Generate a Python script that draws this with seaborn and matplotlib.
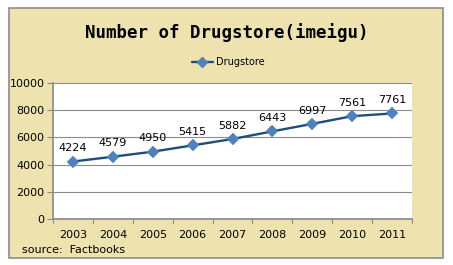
import matplotlib
matplotlib.use("Agg")
import matplotlib.pyplot as plt
import seaborn as sns
import pandas as pd
from matplotlib.patches import Rectangle
from matplotlib.lines import Line2D

years = ["2003", "2004", "2005", "2006", "2007", "2008", "2009", "2010", "2011"]
stores = [4224, 4579, 4950, 5415, 5882, 6443, 6997, 7561, 7761]
yticks = [0, 2000, 4000, 6000, 8000, 10000]

df = pd.DataFrame({"year": years, "stores": stores})

sns.set_theme(style="white")
plt.rcParams['font.family'] = ['DejaVu Sans']
plt.rcParams['text.color'] = 'black'
plt.rcParams['xtick.color'] = 'black'
plt.rcParams['ytick.color'] = 'black'

W, H = 453, 265
fig = plt.figure(figsize=(W / 100, H / 100), dpi=100)
bg = "#EEE3AE"
fig.patch.set_facecolor("white")
fig.patches.append(Rectangle((9 / W, 1 - 258 / H), (443 - 9) / W, (258 - 8) / H,
                             transform=fig.transFigure, facecolor=bg,
                             edgecolor="#8C8C8C", linewidth=1.2, zorder=-10))

ax = fig.add_axes([53 / W, 1 - 219 / H, (412 - 53) / W, (219 - 83) / H])
ax.set_zorder(1)
ax.set_facecolor("white")

sns.pointplot(data=df, x="year", y="stores", ax=ax, color="#1F4E79",
              markers="D", linestyles="-", markersize=5, linewidth=1.7)
for line in ax.lines:
    line.set_markerfacecolor("#4F81BD")
    line.set_markeredgecolor("#4F81BD")
for c in ax.collections:
    c.set_facecolor("#4F81BD")
    c.set_edgecolor("#4F81BD")

for i, v in enumerate(stores):
    ax.annotate(str(v), (i, v), xytext=(0, 6), textcoords="offset points",
                ha="center", va="bottom", fontsize=8, color="black")

ax.set_ylim(0, 10000)
ax.set_xlim(-0.5, len(years) - 0.5)
ax.set_yticks(yticks)
ax.set_yticklabels([str(t) for t in yticks], fontsize=8)
ax.tick_params(axis="x", labelsize=8, length=0, pad=8)
ax.tick_params(axis="y", left=True, length=4, width=0.8, color="#8C8C8C", pad=2)
ax.yaxis.grid(True, color="#8C8C8C", linewidth=0.8)
ax.set_axisbelow(True)
for s in ["top", "right"]:
    ax.spines[s].set_visible(False)
ax.spines["left"].set_color("#8C8C8C")
ax.spines["bottom"].set_color("#8C8C8C")
ax.set_xlabel("")
ax.set_ylabel("")
for k in range(len(years) + 1):
    ax.plot([k - 0.5, k - 0.5], [0, -300], color="#8C8C8C", linewidth=0.8,
            clip_on=False)

fig.text(0.5, 1 - 33 / H, "Number of Drugstore(imeigu)", ha="center", va="center",
         fontsize=12.5, fontweight="bold", family=["DejaVu Sans Mono"], color="black")

handle = Line2D([], [], color="#1F4E79", linewidth=1.7, marker="D", markersize=5,
                markerfacecolor="#4F81BD", markeredgecolor="#4F81BD")
fig.legend([handle], ["Drugstore"], loc="center", bbox_to_anchor=(228 / W, 1 - 62 / H),
           frameon=False, fontsize=7, handlelength=2.2, handletextpad=0.3)

fig.text(22 / W, 1 - 250 / H, "source:  Factbooks", ha="left", va="center", fontsize=8)

fig.savefig("out.png", dpi=100, facecolor=fig.get_facecolor())
